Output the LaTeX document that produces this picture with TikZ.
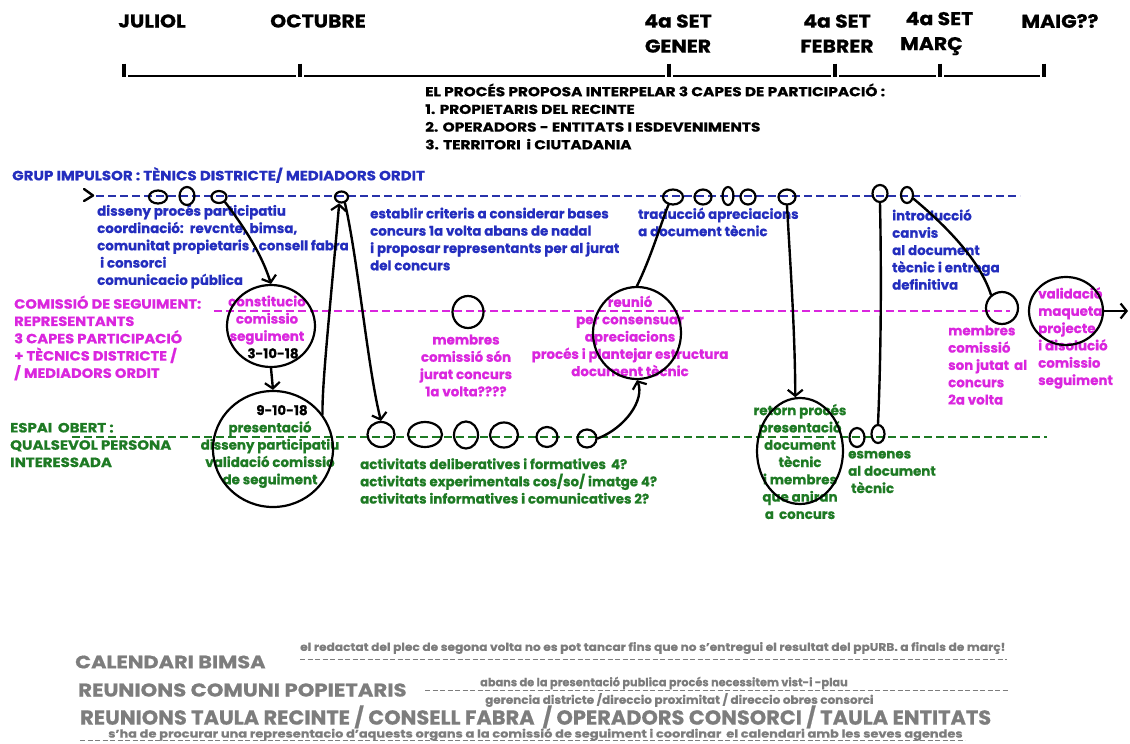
\documentclass[tikz,border=0pt]{standalone}
\usepackage{fontspec}
\setmainfont{Poppins}[BoldFeatures={FakeBold=0.7}]
\usetikzlibrary{shapes.geometric,arrows.meta}
\definecolor{blu}{RGB}{36,46,190}
\definecolor{bluline}{RGB}{40,50,170}
\definecolor{mag}{RGB}{218,38,222}
\definecolor{grn}{RGB}{30,122,36}
\definecolor{gry}{RGB}{125,125,125}
\newcommand\fsz[2]{\fontsize{#1}{#2}\selectfont}
\tikzset{
  txt/.style={inner sep=0pt, font=\bfseries\fsz{13.4}{17.3}},
  btx/.style={txt, text=blu, align=left, anchor=west},
  mtx/.style={txt, text=mag},
  gtx/.style={txt, text=grn},
  hdr/.style={inner sep=0pt, font=\bfseries\fsz{13}{17.7}, align=left, anchor=west, xscale=1.18},
  month/.style={inner sep=0pt, font=\bfseries\fsz{18.5}{25}, align=center, xscale=1.1},
  graytx/.style={inner sep=0pt, text=gry, anchor=west},
  ring/.style={draw=black, line width=2.2pt, ellipse, inner sep=0pt},
  conn/.style={draw=black, line width=2.4pt, line cap=round, line join=round},
  arr/.style={conn, -{Straight Barb[length=6pt,width=15pt,line width=2.2pt]}},
  dl/.style={line width=2pt, dash pattern=on 8pt off 4pt},
  gdl/.style={line width=1.6pt, dash pattern=on 5pt off 2.5pt, draw=gry},
}
\begin{document}
\begin{tikzpicture}[x=1pt,y=-1pt]
\useasboundingbox (0,0) rectangle (1130,744);

% ---------- timeline ----------
\node[month] (mjul) at (152,21) {JULIOL};
\node[month] (moct) at (318,21) {OCTUBRE};
\node[month] (mgen) at (678,33.5) {4a SET\\GENER};
\node[month] (mfeb) at (837,33.5) {4a SET\\FEBRER};
\node[month, align=left, anchor=west] (mmar) at (900,33.5) {\hspace*{5pt}4a SET\\MARÇ};
\node[month] (mmai) at (1060,21) {MAIG??};
\foreach \x in {124,300,669,835,940,1044}{
  \draw[line width=3.2pt] (\x,63.5) -- (\x,76.5);
}
\foreach \a/\b in {124/300,300/669,669/835,835/940,940/1044}{
  \draw[line width=1.8pt] (\a+4,75.6) -- (\b-4,75.6);
}

% ---------- header ----------
\node[hdr] (head) at (425,116.5) {EL PROCÉS PROPOSA INTERPELAR 3 CAPES DE PARTICIPACIÓ :\\
1. PROPIETARIS DEL RECINTE\\2. OPERADORS - ENTITATS I ESDEVENIMENTS\\3. TERRITORI \,i CIUTADANIA};

% ---------- dashed lanes ----------
\draw[dl, draw=bluline] (96,196) -- (1020,196);
\draw[dl, draw=mag] (214,311) -- (1010,311);
\draw[dl, draw=grn] (72,437) -- (1047,437);

% ---------- lane titles ----------
\node[btx, xscale=1.12] (tblue) at (12,175) {GRUP IMPULSOR : TÈNICS DISTRICTE/ MEDIADORS ORDIT};
\node[mtx, align=left, anchor=west, xscale=1.093] (tmag) at (14,338) {COMISSIÓ DE SEGUIMENT:\\REPRESENTANTS\\3 CAPES PARTICIPACIÓ\\+ TÈCNICS DISTRICTE /\\/ MEDIADORS ORDIT};
\node[gtx, align=left, anchor=west, xscale=1.116] (tgrn) at (10,445) {ESPAI \,OBERT :\\QUALSEVOL PERSONA\\INTERESSADA};

% ---------- blue texts ----------
\node[btx] (b1t) at (97,246.5) {disseny procés participatiu\\coordinació: \,revcnte, bimsa,\\comunitat propietaris , consell fabra\\\hspace*{3pt}i consorci\\comunicacio pública};
\node[btx] (b2t) at (370,239) {establir criteris a considerar bases\\concurs 1a volta abans de nadal\\i proposar representants per al jurat\\del concurs};
\node[btx] (b3t) at (638,222) {traducció apreciacions\\a document tècnic};
\node[btx] (b4t) at (892,249.5) {introducció\\canvis\\al document\\tècnic i entrega\\definitiva};

% ---------- magenta texts ----------
\node[mtx, align=center] (m1t) at (267,327) {constitucio\\comissio\\seguiment\\\hspace*{12pt}\textcolor{black}{3-10-18}};
\node[mtx, align=center] (m2t) at (466,365.5) {membres\\comissió són\\jurat concurs\\1a volta????};
\node[mtx, align=center] (m3t) at (630,336) {reunió\\per consensuar\\apreciacions\\procés i plantejar estructura\\document tècnic};
\node[mtx, align=left, anchor=west] (m4t) at (948,365) {membres\\comissió\\son jutat \,al\\concurs\\2a volta};
\node[mtx, align=left, anchor=west] (m5t) at (1038,338) {validació\\maqueta\\projecte\\i disolució\\comissio\\seguiment};

% ---------- green texts ----------
\node[gtx, align=center] (g1t) at (270,446.5) {\hspace*{24pt}\textcolor{black}{9-10-18}\\presentació\\disseny participatiu\\validació comissio\\de seguiment};
\node[gtx, align=left, anchor=west] (g2t) at (360,481) {activitats deliberatives i formatives \,4?\\activitats experimentals cos/so/ imatge 4?\\activitats informatives i comunicatives 2?};
\node[gtx, align=center] (g8t) at (800,461.5) {retorn procés\\presentació\\document\\tècnic\\i membres\\que aniran\\a \,concurs};
\node[gtx, align=left, anchor=west] (g9t) at (848,472) {esmenes\\al document\\\hspace*{3pt}tècnic};

% ---------- rings ----------
\node[ring, minimum width=18pt, minimum height=13pt] (B1) at (158,197) {};
\node[ring, minimum width=15pt, minimum height=18pt] (B2) at (187,196) {};
\node[ring, minimum width=15pt, minimum height=12pt] (B3) at (219,197) {};
\node[ring, minimum width=13pt, minimum height=11pt] (B4) at (341.5,197) {};
\node[ring, minimum width=20pt, minimum height=15pt] (B5) at (673,197) {};
\node[ring, minimum width=17pt, minimum height=15pt] (B6) at (703,197) {};
\node[ring, minimum width=11pt, minimum height=18pt] (B7) at (728,196) {};
\node[ring, minimum width=15pt, minimum height=15pt] (B8) at (748,197) {};
\node[ring, minimum width=17pt, minimum height=15pt] (B9) at (787,197) {};
\node[ring, minimum width=15pt, minimum height=17pt] (B10) at (880,193.5) {};
\node[ring, minimum width=12pt, minimum height=16pt] (B11) at (907,195) {};

\node[ring, minimum width=88pt, minimum height=82pt] (M1) at (271,326) {};
\node[ring, minimum width=31pt, minimum height=32pt] (M2) at (468,312) {};
\node[ring, minimum width=88pt, minimum height=92pt] (M3) at (637,333) {};
\node[ring, minimum width=32pt, minimum height=32pt] (M4) at (1002,308) {};
\node[ring, minimum width=74pt, minimum height=68pt] (M5) at (1066,311) {};

\node[ring, minimum width=120pt, minimum height=116pt] (G1) at (273,449) {};
\node[ring, minimum width=27pt, minimum height=25pt] (G2) at (381,434.5) {};
\node[ring, minimum width=34pt, minimum height=25pt] (G3) at (425,434.5) {};
\node[ring, minimum width=24pt, minimum height=27pt] (G4) at (466,435) {};
\node[ring, minimum width=28pt, minimum height=25pt] (G5) at (504,435) {};
\node[ring, minimum width=21pt, minimum height=20pt] (G6) at (547,437) {};
\node[ring, minimum width=19pt, minimum height=18pt] (G7) at (587,438.5) {};
\node[ring, minimum width=86pt, minimum height=106pt] (G8) at (800,451) {};
\node[ring, minimum width=15pt, minimum height=19pt] (G9) at (857,437.5) {};
\node[ring, minimum width=13pt, minimum height=18pt] (G10) at (878,434) {};

% ---------- connectors ----------
\coordinate (startL) at (84,189);
\draw[conn] (startL) -- (93,195.5) -- (84,201);
\draw[arr] (B3.-40) .. controls (245,228) and (262,255) .. (M1.north);
\draw[arr] (M1.south) -- (G1.north);
\draw[arr] (G1.35) .. controls (322,385) and (329,320) .. (B4.-110);
\draw[arr] (B4.-60) .. controls (358,260) and (368,370) .. (G2.north);
\draw[arr] (G7.east) .. controls (625,428) and (645,400) .. (M3.south);
\draw[conn] (M3.north) .. controls (652,255) and (662,220) .. (B5.-120);
\draw[arr] (B9.south) .. controls (790,260) and (795,330) .. (G8.95);
\draw[conn] (B10.south) .. controls (882,300) and (880,380) .. (G10.north);
\draw[conn] (B11.-30) .. controls (945,225) and (980,260) .. (M4.130);
\coordinate (endR) at (1128,311);
\draw[arr] (M5.east) -- (endR);

% ---------- bottom gray section ----------
\node[graytx, font=\bfseries\fsz{18}{20}, xscale=1.16] (cal) at (75,662) {CALENDARI BIMSA};
\node[graytx, font=\bfseries\fsz{11}{12}, xscale=1.106] (calt) at (300,648) {el redactat del plec de segona volta no es pot tancar fins que no s’entregui el resultat del ppURB. a finals de març!};
\draw[gdl] (300,659.5) -- (1007,659.5);
\node[graytx, font=\bfseries\fsz{18.5}{20}, xscale=1.145] (reu) at (78,690) {REUNIONS COMUNI POPIETARIS};
\node[graytx, font=\bfseries\fsz{11.3}{12}] (reut) at (480,683) {abans de la presentació publica procés necessitem vist-i -plau};
\draw[gdl] (425,690.5) -- (1008,690.5);
\node[graytx, font=\bfseries\fsz{11.3}{12}, xscale=1.06] (reug) at (485,700) {gerencia districte /direccio proximitat / direccio obres consorci};
\node[graytx, font=\bfseries\fsz{20.3}{22}, xscale=1.03, text depth=0pt] (tau) at (80,715) {REUNIONS TAULA RECINTE / CONSELL FABRA \,/ OPERADORS CONSORCI / TAULA ENTITATS};
\node[graytx, font=\bfseries\fsz{11}{12}, xscale=1.175] (taut) at (108,734.5) {s’ha de procurar una representacio d’aquests organs a la comissió de seguiment i coordinar \,el calendari amb les seves agendes};
\draw[gdl] (80,740.5) -- (965,740.5);
\end{tikzpicture}
\end{document}
